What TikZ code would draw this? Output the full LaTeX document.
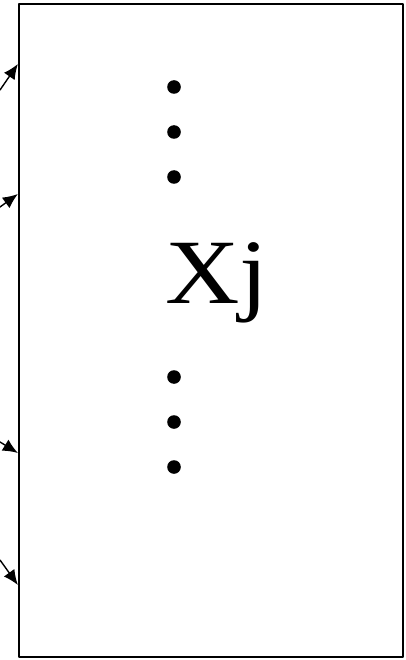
\documentclass[tikz,border=0pt]{standalone}
\usepackage{fontspec}
\setmainfont{Liberation Serif}
\newfontfamily\xjfont{Liberation Serif}
\usetikzlibrary{arrows.meta}
\begin{document}
\begin{tikzpicture}[x=1pt,y=-1pt,>={Latex[length=15pt,width=13pt]}, line join=round, line cap=round]
	\useasboundingbox (0,0) rectangle (406,660);
	\node[draw, line width=2.2pt, minimum width=384pt, minimum height=653pt, inner sep=0pt] (box) at (211,330.5) {};
	\node[anchor=base west, inner sep=0pt] (xj) at (165,303) {\xjfont\fontsize{92}{92}\selectfont\scalebox{1.12}[1]{Xj}};
	% cham tren va duoi chu
	\foreach \y in {87,132,177,377,422,467}
		\fill (174,\y) circle (6.8);
	% mui ten vao hop
	\coordinate (a1) at (0,90);   \coordinate (b1) at (box.west |- 0,64);
	\coordinate (a2) at (0,207);  \coordinate (b2) at (box.west |- 0,194);
	\coordinate (a3) at (0,442);  \coordinate (b3) at (box.west |- 0,453);
	\coordinate (a4) at (0,560);  \coordinate (b4) at (box.west |- 0,585);
	\foreach \i in {1,...,4}
		\draw[->, line width=1.4pt] (a\i) -- (b\i);
\end{tikzpicture}
\end{document}
